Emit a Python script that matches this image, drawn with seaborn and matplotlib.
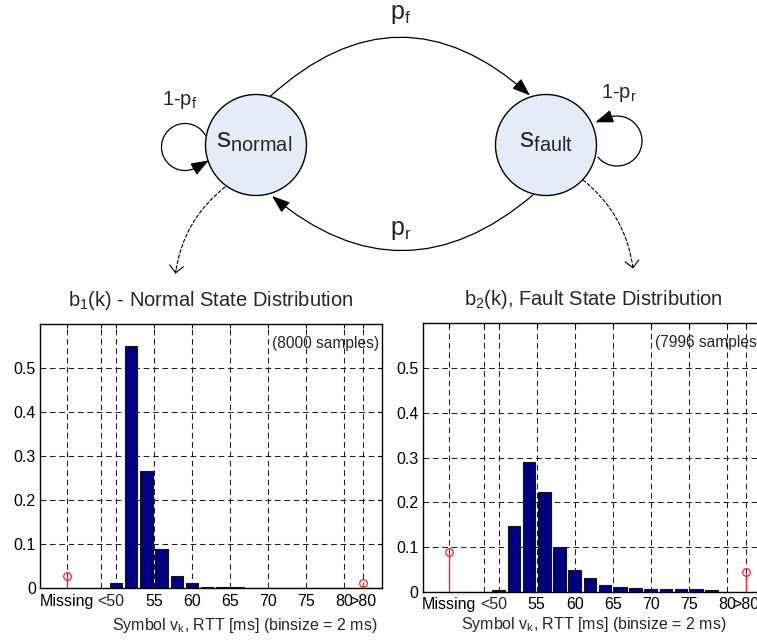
import numpy as np
import pandas as pd
import matplotlib
matplotlib.use("Agg")
import matplotlib.pyplot as plt
import seaborn as sns
from matplotlib.patches import Circle, FancyArrowPatch
from matplotlib.path import Path

# ---------------- data ----------------
bin_centers = [50, 52, 54, 56, 58, 60, 62, 64, 66, 68, 70, 72, 74, 76, 78, 80]
normal_probs = [0.011, 0.55, 0.266, 0.089, 0.027, 0.011, 0.003, 0.003,
                0.0012, 0.001, 0.001, 0.001, 0.0008, 0.0008, 0.0005, 0.0]
fault_probs = [0.003, 0.146, 0.29, 0.222, 0.10, 0.048, 0.030, 0.016,
               0.0105, 0.009, 0.0067, 0.0067, 0.005, 0.005, 0.003, 0.0]
special_pos = [43.5, 82.5]            # "Missing", ">80"
normal_special = [0.027, 0.012]
fault_special = [0.088, 0.043]

xtick_pos = [43.5, 48, 50, 55, 60, 65, 70, 75, 80, 82.5]
xtick_labels = ["Missing", "", "", "55", "60", "65", "70", "75", "80", ">80"]
lt50_pos = [49.3]
lt50_label = ["<50"]
ytick_pos = [0, 0.1, 0.2, 0.3, 0.4, 0.5]
ytick_labels = ["0", "0.1", "0.2", "0.3", "0.4", "0.5"]

titles = [r"b$_1$(k) - Normal State Distribution", r"b$_2$(k), Fault State Distribution"]
sample_notes = ["(8000 samples)", "(7996 samples)"]
xlabel = r"Symbol v$_k$, RTT [ms] (binsize = 2 ms)"

# ---------------- style ----------------
sns.set_style("white")
plt.rcParams["font.family"] = ["Liberation Sans", "DejaVu Sans"]
plt.rcParams["mathtext.fontset"] = "custom"
plt.rcParams["mathtext.rm"] = "Liberation Sans"
plt.rcParams["mathtext.it"] = "Liberation Sans:italic"
plt.rcParams["mathtext.default"] = "regular"

W, H = 757, 642
fig = plt.figure(figsize=(W / 100, H / 100), dpi=100)

ax1 = fig.add_axes([40 / W, 54 / H, 342 / W, 264 / H])
ax2 = fig.add_axes([422.7 / W, 50.3 / H, 342 / W, 268.4 / H])

BAR = "#000080"
STEM = "#ff2020"

for ax, probs, spec, title, note, lab_xy in [
    (ax1, normal_probs, normal_special, titles[0], sample_notes[0], (0.6, -0.105)),
    (ax2, fault_probs, fault_special, titles[1], sample_notes[1], (0.5, -0.088)),
]:
    df = pd.DataFrame({"rtt": bin_centers, "p": probs})
    sns.histplot(data=df, x="rtt", weights="p", binwidth=2, binrange=(49, 81),
                 shrink=0.82, color=BAR, edgecolor="#151515", linewidth=0.8,
                 alpha=1.0, ax=ax, zorder=3)
    ax.vlines(special_pos, 0, spec, color=STEM, lw=1.0, zorder=4)
    ax.plot(special_pos, spec, "o", mfc="none", mec=STEM, ms=5.5, mew=0.9, zorder=5)

    ax.set_xlim(40, 85)
    ax.set_ylim(0, 0.6)
    ax.set_xticks(xtick_pos)
    ax.set_xticklabels(xtick_labels)
    ax.set_xticks(lt50_pos, minor=True)
    ax.set_xticklabels(lt50_label, minor=True)
    ax.set_yticks(ytick_pos)
    ax.set_yticklabels(ytick_labels)
    ax.tick_params(axis="both", which="major", direction="in", length=3,
                   width=0.8, top=True, right=True, labelsize=11.5, pad=4,
                   colors="black")
    ax.tick_params(axis="x", which="minor", length=0, labelsize=11.5, pad=4)
    ax.tick_params(axis="y", which="major", pad=3)
    ax.grid(True, which="major", color="#202020", lw=0.75,
            linestyle=(0, (5.5, 3.5)), zorder=1)
    ax.set_axisbelow(True)
    for s in ax.spines.values():
        s.set_visible(True)
        s.set_color("black")
        s.set_linewidth(1.0)
    ax.set_ylabel("")
    ax.set_xlabel(xlabel, fontsize=11.5)
    ax.xaxis.set_label_coords(*lab_xy)
    ax.set_title(title, fontsize=14.5, pad=13)
    ax.text(0.992, 0.928, note, transform=ax.transAxes, ha="right",
            va="center", fontsize=11.2, zorder=6)

# ---------------- state diagram (pixel coordinates) ----------------
axd = fig.add_axes([0, 0, 1, 1], zorder=-1)
axd.set_xlim(0, W)
axd.set_ylim(H, 0)
axd.axis("off")
axd.patch.set_alpha(0)

FILL = "#E6ECF7"
axd.add_patch(Circle((256, 145), 50.5, facecolor=FILL, edgecolor="black", lw=1.0, zorder=3))
axd.add_patch(Circle((546, 145), 50.5, facecolor=FILL, edgecolor="black", lw=1.0, zorder=3))

head = "-|>,head_length=11,head_width=4"
axd.add_patch(FancyArrowPatch((270, 96.5), (530, 95.5), connectionstyle="arc3,rad=-0.45",
                              arrowstyle=head, mutation_scale=1, lw=0.9, color="black",
                              shrinkA=0, shrinkB=0, zorder=4))
axd.add_patch(FancyArrowPatch((533, 195), (272, 196), connectionstyle="arc3,rad=-0.42",
                              arrowstyle=head, mutation_scale=1, lw=0.9, color="black",
                              shrinkA=0, shrinkB=0, zorder=4))


def loop_path(cx, cy, r, t0, t1, ext):
    th = np.deg2rad(np.linspace(t0, t1, 80))
    pts = np.column_stack([cx + r * np.cos(th), cy + r * np.sin(th)])
    tang = np.array([np.sin(th[-1]), -np.cos(th[-1])])
    pts = np.vstack([pts, pts[-1] + ext * tang])
    return Path(pts)


axd.add_patch(FancyArrowPatch(path=loop_path(185, 147, 23.5, -30, -300, 14),
                              arrowstyle=head, mutation_scale=1, lw=0.9, color="black",
                              zorder=4))
axd.add_patch(FancyArrowPatch(path=loop_path(617, 141, 25, 140, -110, 14),
                              arrowstyle=head, mutation_scale=1, lw=0.9, color="black",
                              zorder=4))

# dashed emission arrows
vhead = "->,head_length=5,head_width=5"
axd.add_patch(FancyArrowPatch((225, 187), (175.5, 273), connectionstyle="arc3,rad=0.2",
                              arrowstyle="-", lw=0.8, color="black", linestyle=(0, (3, 2)),
                              shrinkA=0, shrinkB=0, zorder=4))
axd.add_patch(FancyArrowPatch((175.9, 270.5), (175.5, 273.5), arrowstyle=vhead,
                              mutation_scale=1, lw=0.8, color="black", shrinkA=0, shrinkB=0, zorder=4))
axd.add_patch(FancyArrowPatch((583, 180), (633, 268), connectionstyle="arc3,rad=-0.2",
                              arrowstyle="-", lw=0.8, color="black", linestyle=(0, (3, 2)),
                              shrinkA=0, shrinkB=0, zorder=4))
axd.add_patch(FancyArrowPatch((632.6, 265.5), (633, 268.5), arrowstyle=vhead,
                              mutation_scale=1, lw=0.8, color="black", shrinkA=0, shrinkB=0, zorder=4))

# labels
axd.text(254, 148, r"s$_{normal}$", fontsize=20.5, ha="center", va="baseline", zorder=5)
axd.text(546, 148, r"s$_{fault}$", fontsize=20.5, ha="center", va="baseline", zorder=5)
axd.text(401, 18.5, r"p$_f$", fontsize=18, ha="center", va="baseline")
axd.text(401, 235, r"p$_r$", fontsize=18, ha="center", va="baseline")
axd.text(180, 105, r"1-p$_f$", fontsize=14.5, ha="center", va="baseline")
axd.text(619, 97.5, r"1-p$_r$", fontsize=14.5, ha="center", va="baseline")

fig.savefig("out.png", dpi=100)
